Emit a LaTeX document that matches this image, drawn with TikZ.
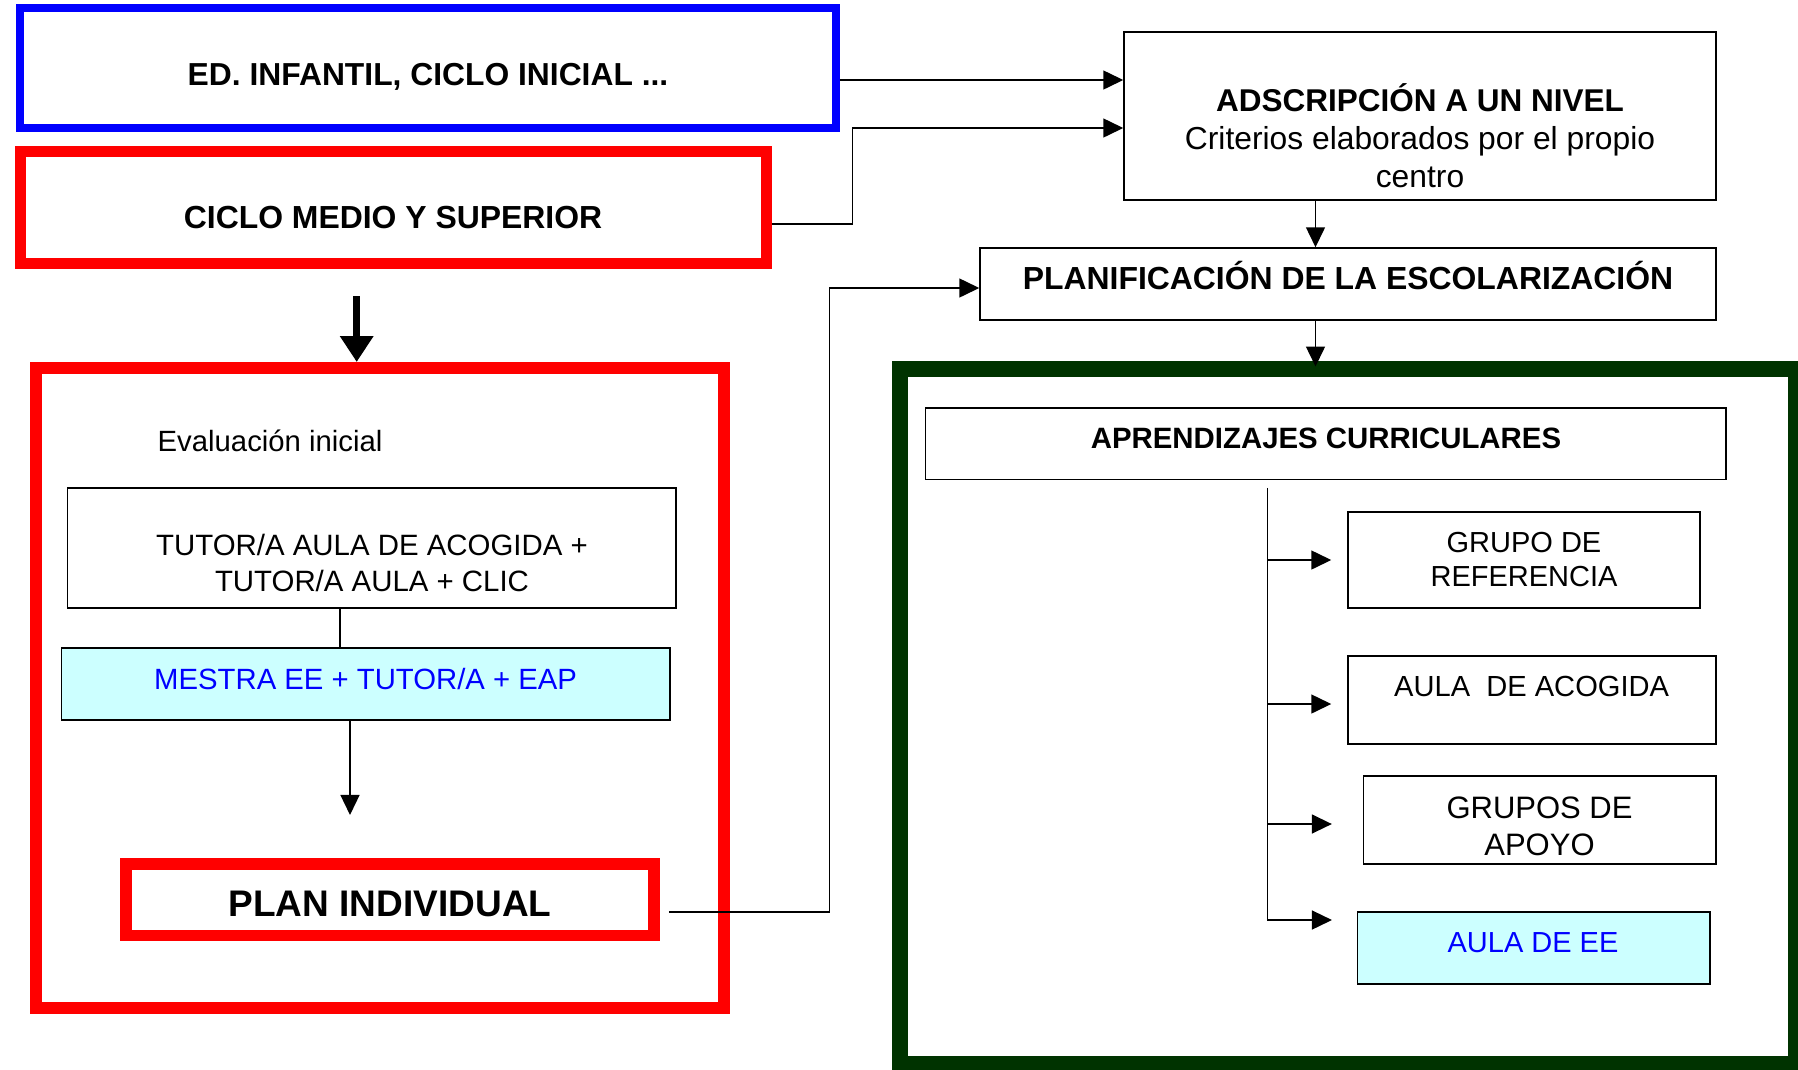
\documentclass[tikz,border=0pt]{standalone}
\usepackage{fontspec}
\setmainfont{Liberation Sans}
\usepackage{xcolor}
\usetikzlibrary{calc, arrows.meta}

\definecolor{boxblue}{RGB}{0,0,255}
\definecolor{boxred}{RGB}{255,0,0}
\definecolor{boxgreen}{RGB}{0,51,0}
\definecolor{paleCyan}{RGB}{204,255,255}

\newcommand{\fsz}[2]{\fontsize{#1pt}{#2pt}\selectfont}

\begin{document}
\begin{tikzpicture}[x=1pt, y=-1pt,
  box/.style={draw, line width=1.5pt, inner sep=0pt},
  thickbox/.style={draw, inner sep=0pt},
  txt/.style={inner sep=0pt, align=center},
  arr/.style={line width=1.5pt, -{Triangle[length=20pt, width=19pt]}},
  bigarr/.style={line width=6.5pt, -{Triangle[length=26pt, width=32pt]}}]
  \useasboundingbox (0,0) rectangle (1798,1069);

  % Stages (top left)
  \node[thickbox, draw=boxblue, line width=8pt, minimum width=815.5pt, minimum height=120pt] (edinf) at (427.75,68) {};
  \node[txt, anchor=base, font=\bfseries\fsz{31.8}{38}] (edinfT) at (428,85) {ED. INFANTIL, CICLO INICIAL ...};
  \node[thickbox, draw=boxred, line width=11pt, minimum width=746pt, minimum height=112pt] (ciclo) at (393,207.5) {};
  \node[txt, anchor=base, font=\bfseries\fsz{31.9}{38}] (cicloT) at (393,228) {CICLO MEDIO Y SUPERIOR};

  % Level and planning (top right)
  \node[box, minimum width=592pt, minimum height=168pt] (adsc) at (1420,116) {};
  \node[txt, font=\fsz{31.8}{38.3}] (adscT) at (1420,135.5)
    {{\bfseries\fsz{31.5}{38.3}ADSCRIPCIÓN A UN NIVEL}\\Criterios elaborados por el propio\\centro};
  \node[box, minimum width=736pt, minimum height=72pt] (plan) at (1348,284) {};
  \node[txt, anchor=base, font=\bfseries\fsz{31.9}{38}] (planT) at (1348,289) {PLANIFICACIÓN DE LA ESCOLARIZACIÓN};

  % Curricular learning (bottom right)
  \node[thickbox, draw=boxgreen, line width=16pt, minimum width=895.5pt, minimum height=695.5pt] (curric) at (1347.75,716.25) {};
  \node[box, minimum width=800.3pt, minimum height=71.5pt] (aprend) at (1325.85,443.75) {};
  \node[txt, anchor=base, font=\bfseries\fsz{29.4}{34}] (aprendT) at (1326,448) {APRENDIZAJES CURRICULARES};
  \node[box, minimum width=352pt, minimum height=96pt] (grupo) at (1524,560) {};
  \node[txt, font=\fsz{29}{34}] (grupoT) at (1524,559.5) {GRUPO DE\\REFERENCIA};
  \node[box, minimum width=368pt, minimum height=88pt] (acog) at (1532,700) {};
  \node[txt, anchor=base, font=\fsz{29.1}{34}] (acogT) at (1531.6,696) {AULA\ \ DE ACOGIDA};
  \node[box, minimum width=352.4pt, minimum height=88pt] (apoyo) at (1539.8,820) {};
  \node[txt, font=\fsz{31}{37}] (apoyoT) at (1539.5,826.5) {GRUPOS DE\\APOYO};
  \node[box, fill=paleCyan, minimum width=352.3pt, minimum height=72pt] (ee) at (1533.85,948) {};
  \node[txt, anchor=base, text=boxblue, font=\fsz{29}{34}] (eeT) at (1533,952) {AULA DE EE};

  % Initial evaluation (bottom left)
  \node[thickbox, draw=boxred, line width=12pt, minimum width=687.7pt, minimum height=640pt] (evalbox) at (379.65,688) {};
  \node[txt, anchor=base west, font=\fsz{29.3}{34}] (evalT) at (157.5,451.6) {Evaluación inicial};
  \node[box, minimum width=608.6pt, minimum height=120pt] (tutor) at (371.7,548) {};
  \node[txt, font=\fsz{29.4}{35.4}] (tutorT) at (372,563) {TUTOR/A AULA DE ACOGIDA +\\TUTOR/A AULA + CLIC};
  \node[box, fill=paleCyan, minimum width=608.4pt, minimum height=72pt] (mestra) at (365.8,684) {};
  \node[txt, anchor=base, text=boxblue, font=\fsz{29.3}{34}] (mestraT) at (365.6,689) {MESTRA EE + TUTOR/A + EAP};
  \node[thickbox, draw=boxred, line width=11.5pt, minimum width=528pt, minimum height=71.5pt] (planind) at (390,899.9) {};
  \node[txt, anchor=base, font=\bfseries\fsz{37}{44}] (planindT) at (390,916.5) {PLAN INDIVIDUAL};

  % Connectors
  \draw[arr] ($(edinf.east)+(0,12)$) coordinate (k1) -- (k1 -| adsc.west);
  \draw[arr] ($(ciclo.east)+(0,16.5)$) -| ($(adsc.west)+(-271,12)$) -- ($(adsc.west)+(0,12)$);
  \draw[arr] ($(adsc.south)+(-104.5,0)$) coordinate (k3) -- (k3 |- plan.north);
  \draw[arr] ($(plan.south)+(-32.5,0)$) coordinate (k4) -- ($(k4 |- curric.north)+(0,6)$);
  \draw[arr] ($(planind.east)+(9,12)$) -| ($(plan.west)+(-150,4)$) -- ($(plan.west)+(0,4)$);
  \draw[bigarr] ($(ciclo.south)+(-36.3,27)$) coordinate (k6) -- (k6 |- evalbox.north);
  \draw[line width=1.5pt] ($(tutor.south)+(-31.7,0)$) coordinate (k7) -- (k7 |- mestra.north);
  \draw[arr] ($(mestra.south)+(-15.8,0)$) -- ++(0,94.2);

  % Branches to the groups
  \coordinate (trunk) at ($(aprend.south)+(-58.2,7.7)$);
  \draw[arr] (trunk) |- ($(ee.west)+(-25,-28)$);
  \draw[arr] (trunk |- grupo.west) -- ($(grupo.west)+(-16,0)$);
  \draw[arr] ($(trunk |- acog.west)+(0,4)$) -- ($(acog.west)+(-16,4)$);
  \draw[arr] ($(trunk |- apoyo.west)+(0,4)$) -- ($(apoyo.west)+(-31,4)$);
\end{tikzpicture}
\end{document}
